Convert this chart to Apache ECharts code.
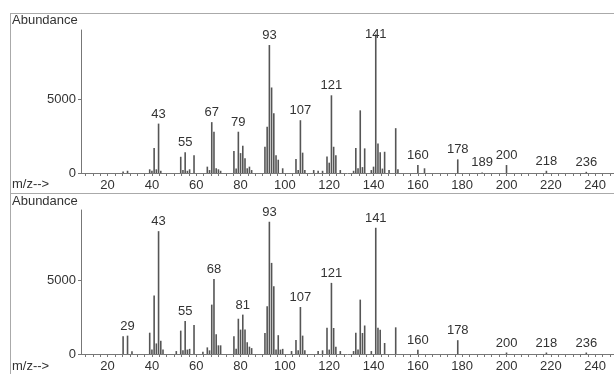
<!DOCTYPE html>
<html><head><meta charset="utf-8">
<script src="https://cdn.jsdelivr.net/npm/echarts@6/dist/echarts.min.js"></script>
<style>html,body{margin:0;padding:0;background:#fff}#c{width:614px;height:374px}</style>
</head><body><div id="c"></div>
<script>
// ---- data: upper spectrum ----
const topMz = [27,29,39,40,41,42,43,44,53,54,55,56,57,59,65,66,67,68,69,70,71,77,78,79,80,81,82,83,84,85,91,92,93,94,95,96,97,99,105,106,107,108,109,113,115,117,119,120,121,122,123,125,131,132,133,134,135,136,139,140,141,142,143,144,145,147,150,151,160,163,178,189,200,218,236];
const topAb = [100,150,250,150,1700,250,3350,150,1100,200,1400,150,250,1200,430,200,3450,2800,320,250,150,1500,300,2800,1350,1850,1000,320,430,200,1780,3130,8680,5800,4060,1200,900,320,950,200,3580,1380,200,200,150,150,1120,700,5270,1780,1200,200,150,1690,320,4250,400,1670,200,430,9400,2000,1400,300,1440,200,3040,250,540,320,925,40,540,150,80];
const topLabels = [43,55,67,79,93,107,121,141,160,178,189,200,218,236];
// ---- data: lower spectrum ----
const botMz = [27,29,31,39,40,41,42,43,44,45,51,53,54,55,56,57,59,63,65,66,67,68,69,70,71,77,78,79,80,81,82,83,84,85,91,92,93,94,95,96,97,98,99,103,105,106,107,108,109,115,117,119,120,121,122,123,125,131,132,133,134,135,136,139,141,142,143,145,150,160,178,200,218,236];
const botAb = [1200,1250,180,1450,300,3980,720,8360,900,300,200,1590,250,2250,300,350,1980,150,450,250,3360,5100,1350,590,590,1200,350,2400,1660,2680,1660,800,500,400,1430,3250,9000,6200,4610,300,1280,300,350,200,950,250,3200,1250,250,200,250,1790,300,4840,1770,500,200,200,1450,300,3700,1430,1940,200,8590,1790,1650,750,1815,290,940,100,100,100];
const botLabels = [29,43,55,68,81,93,107,121,141,160,178,200,218,236];
// ---- axis ticks ----
const xTickLabels = [20,40,60,80,100,120,140,160,180,200,220,240];
const yTickLabels = [0,5000];

const minorTicks = [];
for (let v = 10; v <= 248; v += 10/3) minorTicks.push(Math.round(v*1000)/1000);

const FONT = 'Liberation Sans, Arial, sans-serif';
const TXT = '#333';
const AX = '#777';

function mkX(gi){
  return {
    type:'value', gridIndex:gi, min:8, max:248.5,
    axisLine:{show:true, lineStyle:{color:AX, width:1}},
    axisTick:{show:true, customValues:minorTicks, length:3, lineStyle:{color:AX}},
    axisLabel:{customValues:xTickLabels, fontSize:13, color:TXT, fontFamily:FONT, margin:6, formatter:v=>String(v)},
    splitLine:{show:false}
  };
}
function mkY(gi, max){
  return {
    type:'value', gridIndex:gi, min:0, max:max,
    axisLine:{show:true, lineStyle:{color:AX, width:1}},
    axisTick:{show:true, customValues:yTickLabels, length:3, lineStyle:{color:AX}},
    axisLabel:{customValues:yTickLabels, fontSize:13, color:TXT, fontFamily:FONT, margin:5, formatter:v=>String(v)},
    splitLine:{show:false}
  };
}
function mkData(mz, ab, labels, specialOffsets){
  return mz.map((m,i)=>{
    const d = {value:[m, ab[i]]};
    if (labels.includes(m)) {
      d.label = {show:true};
      if (specialOffsets && specialOffsets[m]) d.label.offset = specialOffsets[m];
    }
    return d;
  });
}
const lbl = {show:false, position:'top', distance:3, fontSize:13, color:TXT, fontFamily:FONT,
             formatter:p=>String(p.value[0])};

const chart = echarts.init(document.getElementById('c'), null, {renderer:'canvas'});
chart.setOption({
  animation:false,
  backgroundColor:'#fff',
  grid:[
    {left:81, right:0, top:30, height:143},
    {left:81, right:0, top:210, height:144}
  ],
  xAxis:[mkX(0), mkX(1)],
  yAxis:[mkY(0, 9700), mkY(1, 9800)],
  series:[
    {type:'bar', xAxisIndex:0, yAxisIndex:0, barWidth:1.6, itemStyle:{color:'#555'},
     label:lbl, data:mkData(topMz, topAb, topLabels, {141:[0,9]})},
    {type:'bar', xAxisIndex:1, yAxisIndex:1, barWidth:1.6, itemStyle:{color:'#555'},
     label:lbl, data:mkData(botMz, botAb, botLabels)}
  ],
  graphic:[
    {type:'line', shape:{x1:10, y1:13.5, x2:614, y2:13.5}, style:{stroke:'#aaa', lineWidth:1}},
    {type:'line', shape:{x1:10.5, y1:13, x2:10.5, y2:193}, style:{stroke:'#aaa', lineWidth:1}},
    {type:'line', shape:{x1:10, y1:193.5, x2:614, y2:193.5}, style:{stroke:'#aaa', lineWidth:1}},
    {type:'line', shape:{x1:10.5, y1:193, x2:10.5, y2:374}, style:{stroke:'#aaa', lineWidth:1}},
    {type:'text', left:12, top:14, style:{text:'Abundance', fontSize:13, fill:TXT, fontFamily:FONT}},
    {type:'text', left:12, top:178, style:{text:'m/z-->', fontSize:13, fill:TXT, fontFamily:FONT}},
    {type:'text', left:12, top:195, style:{text:'Abundance', fontSize:13, fill:TXT, fontFamily:FONT}},
    {type:'text', left:12, top:360, style:{text:'m/z-->', fontSize:13, fill:TXT, fontFamily:FONT}}
  ]
});
</script></body></html>
